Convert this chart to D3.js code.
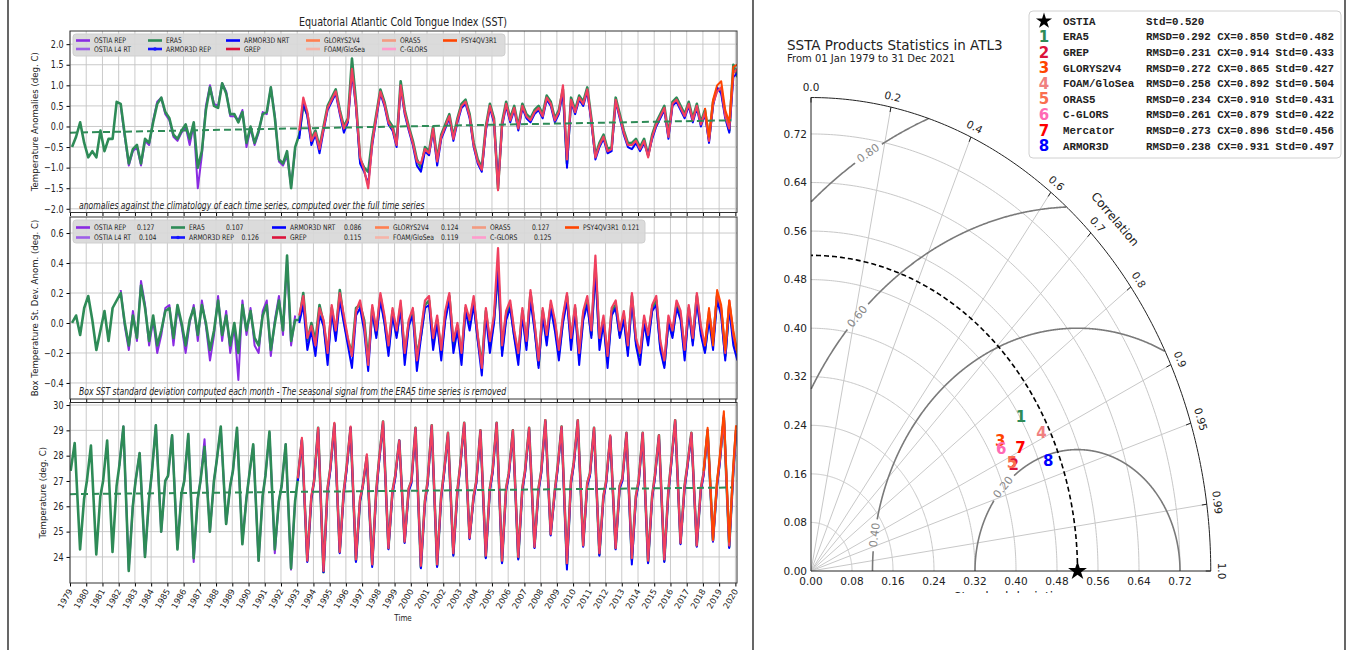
<!DOCTYPE html>
<html>
<head>
<meta charset="utf-8">
<script src="https://cdn.jsdelivr.net/npm/d3@7"></script>
<style>
  body { margin: 0; background: #fff; }
  svg { display: block; font-family: "DejaVu Sans", sans-serif; }
</style>
</head>
<body>
<svg id="chart" width="1347" height="650"></svg>
<script>
// ---------- time series data ----------
const yearTicks = d3.range(1979, 2021);
const quarterOffsets = [0.125, 0.375, 0.625, 0.875];
const seasonOffsets = [0.04, 0.29, 0.62, 0.87]; // Jan, Apr (peak), Aug (trough), Nov

// panel 1: SST anomalies, quarterly
const anomEra5 = [
  -0.5,-0.25,0.1,-0.4, -0.75,-0.6,-0.75,-0.1, -0.6,-0.3,-0.3,0.6, 0.55,-0.2,-0.9,-0.55,
  -0.45,-0.9,-0.3,-0.4, 0.1,0.55,0.7,0.35, 0.2,-0.2,-0.3,-0.1, 0.05,-0.3,0.1,-1.0,
  -0.6,0.4,0.95,0.5, 0.45,1.05,0.8,0.3, 0.3,0.1,0.35,-0.4, 0.0,-0.4,-0.1,0.3,
  0.35,0.95,0.2,-0.8, -0.9,-0.6,-1.5,-0.5, -0.2,0.5,0.3,-0.3, -0.1,-0.5,0.0,0.5,
  0.7,0.9,0.4,0.0, 0.2,1.65,0.6,-0.8, -1.0,-1.1,-0.3,0.3, 0.9,0.6,0.15,0.0,
  -0.4,1.1,0.4,0.0, -0.35,-0.8,-1.0,-0.5, -0.6,0.0,-0.8,-0.2, 0.05,0.3,-0.25,0.2,
  0.55,0.65,0.3,-0.4, -0.8,-1.0,0.0,0.55, 0.2,-1.5,0.1,0.6, 0.2,0.5,0.0,0.55,
  0.3,0.2,0.4,0.5, 0.3,0.75,0.6,0.2, 0.4,0.9,-0.9,0.7, 0.4,0.75,0.6,0.95,
  0.2,-0.7,-0.4,-0.2, -0.55,-0.5,0.7,0.3, -0.1,-0.4,-0.4,-0.3, -0.5,-0.3,-0.7,-0.2,
  0.1,0.3,0.5,-0.2, 0.6,0.7,0.5,0.3, 0.6,0.2,0.55,0.1, 0.4,-0.3,0.6,0.9,
  0.9,0.3,-0.1,1.5, 1.2
];
const anomOstia = [
  0.5,-0.25,-0.95,-0.6, -0.5,-0.95,-0.35,-0.45, 0.15,0.6,0.7,0.3, 0.15,-0.25,-0.35,-0.15,
  0.0,-0.45,0.05,-1.5, -0.7,0.5,1.0,0.55, 0.5,1.05,0.85,0.25, 0.25,0.15,0.4,-0.5,
  -0.05,-0.45,-0.15,0.35, 0.3,0.95,0.25,-0.85, -0.95,-0.7,-1.45,-0.55
];
const anomArmor = [
  -0.3,0.6,0.25,-0.45, -0.2,-0.65,-0.1,0.4, 0.6,0.8,0.3,-0.15, 0.1,1.3,0.45,-0.9,
  -1.1,-1.4,-0.45,0.2, 0.8,0.5,0.05,-0.1, -0.5,0.95,0.3,-0.1, -0.45,-0.95,-1.1,-0.6,
  -0.7,-0.1,-0.95,-0.3, -0.05,0.2,-0.35,0.1, 0.45,0.55,0.2,-0.5, -0.9,-1.1,-0.1,0.45,
  0.1,-1.45,0.0,0.5, 0.1,0.4,-0.1,0.45, 0.2,0.1,0.3,0.4, 0.2,0.65,0.5,0.1,
  0.3,0.85,-1.0,0.6, 0.3,0.65,0.5,0.85, 0.1,-0.8,-0.5,-0.3, -0.65,-0.6,0.6,0.2,
  -0.2,-0.5,-0.55,-0.4, -0.6,-0.4,-0.7,-0.3, 0.0,0.2,0.4,-0.3, 0.5,0.6,0.4,0.2,
  0.5,0.1,0.45,0.0, 0.3,-0.4,0.5,0.95, 0.8,0.2,-0.15,1.2, 1.3
];
const anomGrep = [
  -0.1,0.7,0.35,-0.35, -0.15,-0.55,-0.05,0.45, 0.65,0.85,0.35,-0.05, 0.15,1.4,0.5,-0.75,
  -1.05,-1.5,-0.4,0.25, 0.85,0.55,0.1,-0.05, -0.45,1.0,0.35,-0.05, -0.4,-0.85,-0.9,-0.55,
  -0.65,-0.05,-0.85,-0.25, 0.0,0.25,-0.3,0.15, 0.5,0.6,0.25,-0.45, -0.85,-1.05,-0.05,0.5,
  0.15,-1.55,0.05,0.55, 0.15,0.45,-0.05,0.5, 0.25,0.15,0.35,0.45, 0.25,0.7,0.55,0.15,
  0.35,1.0,-0.8,0.65, 0.35,0.7,0.55,0.9, 0.15,-0.75,-0.45,-0.25, -0.6,-0.55,0.65,0.25,
  -0.15,-0.45,-0.45,-0.35, -0.55,-0.35,-0.75,-0.25, 0.05,0.25,0.45,-0.25, 0.55,0.65,0.45,0.25,
  0.55,0.15,0.5,0.05, 0.35,-0.35,0.55,0.85, 0.95,0.25,-0.05,1.3, 1.4
];
const anomPsy4 = [0.45,-0.25,0.65,1.0, 1.1,0.4,0.1,1.45, 1.5];

// panel 2: box SST standard deviation anomalies, quarterly
const sdEra5 = [
  0.0,0.05,-0.08,0.1, 0.18,0.02,-0.18,-0.05, 0.08,-0.12,0.1,0.15, 0.2,0.0,-0.15,0.05,
  -0.1,0.25,0.1,-0.12, 0.05,-0.15,-0.05,0.08, 0.1,-0.1,0.12,0.0, -0.15,0.02,0.1,-0.08,
  0.12,0.0,-0.18,-0.05, 0.15,-0.08,0.05,-0.15, 0.0,-0.2,0.12,-0.05, 0.08,-0.1,-0.15,0.05,
  0.12,-0.18,0.0,0.15, -0.05,0.45,-0.12,0.02, 0.02,0.2,-0.12,0.0, -0.12,0.12,0.0,-0.22,
  0.1,-0.08,0.22,0.02, -0.12,-0.2,0.1,0.12, 0.02,-0.25,0.1,-0.08, 0.18,0.02,-0.18,0.08,
  -0.08,0.12,-0.22,0.0, 0.08,-0.22,-0.08,0.12, 0.15,-0.12,0.02,-0.2, 0.05,0.18,-0.15,-0.02,
  -0.22,0.1,0.0,0.15, -0.1,-0.28,0.08,-0.15, 0.02,0.35,-0.18,0.05, 0.12,-0.08,-0.22,0.08,
  -0.15,0.2,-0.02,-0.28, 0.08,-0.1,0.12,0.0, -0.2,0.02,0.18,-0.12, 0.1,-0.22,0.05,0.15,
  -0.08,0.38,-0.12,0.02, -0.25,0.08,0.12,-0.08, 0.05,-0.18,0.18,-0.12, -0.22,0.02,-0.1,0.1,
  0.15,-0.15,-0.28,0.02, -0.08,0.12,0.05,-0.2, 0.1,-0.12,0.18,-0.05, -0.18,0.05,-0.12,0.18,
  0.08,-0.22,0.12,-0.1, -0.22
];
const sdOstia = [
  0.22,-0.02,-0.18,0.08, -0.12,0.28,0.12,-0.15, 0.02,-0.2,-0.08,0.1, 0.12,-0.15,0.1,-0.02,
  -0.2,0.0,0.12,-0.12, 0.15,-0.02,-0.25,-0.08, 0.18,-0.12,0.08,-0.2, -0.02,-0.38,0.15,-0.08,
  0.1,-0.15,-0.2,0.08, 0.15,-0.22,0.02,0.18, -0.08,0.42,-0.15,0.05
];
const sdArmor = [
  0.0,0.12,-0.18,-0.05, -0.22,0.05,-0.02,-0.28, 0.08,-0.12,0.15,0.0, -0.15,-0.3,0.05,0.1,
  -0.05,-0.32,0.08,-0.1, 0.15,0.0,-0.22,0.05, -0.1,0.1,-0.28,-0.02, 0.05,-0.32,-0.1,0.1,
  0.12,-0.18,0.0,-0.25, 0.02,0.15,-0.2,-0.05, -0.28,0.08,-0.05,0.12, -0.12,-0.35,0.05,-0.2,
  0.0,0.35,-0.22,0.02, 0.1,-0.1,-0.28,0.05, -0.18,0.15,-0.05,-0.3, 0.05,-0.15,0.1,-0.05,
  -0.25,0.0,0.15,-0.18, 0.08,-0.28,0.02,0.12, -0.1,0.35,-0.18,0.0, -0.3,0.05,0.1,-0.1,
  0.02,-0.22,0.15,-0.15, -0.28,0.0,-0.15,0.08, 0.12,-0.18,-0.3,0.0, -0.1,0.1,0.02,-0.25,
  0.08,-0.15,0.15,-0.08, -0.2,0.02,-0.18,0.15, 0.05,-0.25,0.1,-0.15, -0.25
];
const sdGrep = [
  0.05,0.18,-0.1,-0.02, -0.15,0.1,0.02,-0.2, 0.12,-0.05,0.2,0.05, -0.1,-0.22,0.08,0.15,
  0.0,-0.28,0.12,-0.05, 0.2,0.05,-0.15,0.1, -0.05,0.15,-0.2,0.02, 0.1,-0.25,-0.05,0.15,
  0.18,-0.1,0.05,-0.18, 0.08,0.2,-0.12,0.0, -0.2,0.12,0.02,0.18, -0.08,-0.3,0.1,-0.12,
  0.05,0.5,-0.15,0.08, 0.15,-0.05,-0.2,0.1, -0.12,0.22,0.0,-0.25, 0.1,-0.08,0.15,0.02,
  -0.18,0.05,0.2,-0.1, 0.12,-0.2,0.08,0.18, -0.05,0.45,-0.1,0.05, -0.22,0.1,0.15,-0.05,
  0.08,-0.15,0.2,-0.1, -0.2,0.05,-0.08,0.12, 0.18,-0.12,-0.25,0.05, -0.05,0.15,0.08,-0.18,
  0.12,-0.1,0.2,-0.02, -0.15,0.08,-0.1,0.2, 0.1,-0.2,0.15,-0.08, -0.2
];
const sdPsy4 = [-0.15,0.1,-0.15,0.22, 0.12,-0.18,0.15,-0.05, -0.2];

// panel 3: box SST, per year [Jan, Apr, Aug, Nov]
const tempEra5 = [
  [27.4,28.5,24.3,26.3],[27.0,28.4,24.1,26.4],[27.0,28.6,24.2,26.8],[27.6,29.15,23.45,26.0],
  [27.0,28.1,24.0,26.3],[27.3,29.2,25.0,27.0],[27.2,28.8,24.3,26.5],[27.0,28.85,23.95,26.3],
  [27.0,28.35,25.0,27.0],[27.8,29.15,25.3,26.8],[27.4,29.1,24.5,26.3],[27.2,28.45,23.85,26.4],
  [27.2,28.95,24.3,26.2],[26.8,28.45,23.55,26.2],[27.1,28.6,23.85,26.3],[27.0,29.1,23.4,26.7],
  [27.5,29.25,24.2,26.6],[27.5,29.1,23.85,26.2],[26.8,27.95,23.7,26.6],[27.8,29.35,24.35,26.6],
  [27.2,28.6,24.6,26.7],[27.0,29.1,23.6,26.2],[27.0,29.2,23.65,26.4],[27.3,28.9,24.1,26.6],
  [27.6,29.3,24.75,26.4],[27.0,29.0,24.0,26.7],[27.4,29.3,23.8,26.7],[27.3,29.0,23.95,26.7],
  [27.4,29.1,24.4,26.7],[27.4,29.4,24.9,26.6],[27.5,29.15,23.7,27.0],[27.7,29.4,24.45,26.9],
  [27.3,29.1,24.1,26.4],[27.0,28.75,24.35,26.8],[27.1,28.9,23.9,26.4],[27.0,28.9,23.8,26.4],
  [27.2,28.8,23.85,26.6],[27.7,29.4,24.55,26.8],[27.6,28.9,24.45,26.7],[27.3,29.0,24.65,26.9],
  [27.8,29.5,24.4,27.4],[29.0]
];
const tempOstia = [
  [27.6,29.15,23.5,26.0],[27.0,28.1,24.0,26.3],[27.3,29.2,25.0,27.0],[27.2,28.8,24.35,26.5],
  [27.0,28.8,23.8,26.3],[27.0,28.65,25.0,27.0],[27.8,29.1,25.3,26.8],[27.4,29.05,24.55,26.3],
  [27.2,28.4,23.85,26.4],[27.2,28.9,24.15,26.2],[26.8,28.45,23.5,26.2]
];
const tempArmor = [
  [27.0,28.65,23.8,26.3],[27.0,29.05,23.4,26.6],[27.4,29.2,24.15,26.5],[27.4,29.1,23.8,26.2],
  [26.8,27.95,23.6,26.5],[27.7,29.3,24.3,26.5],[27.1,28.6,24.55,26.6],[26.9,29.05,23.55,26.1],
  [26.9,29.15,23.6,26.3],[27.2,28.85,24.05,26.5],[27.5,29.25,24.7,26.3],[26.9,28.95,23.95,26.6],
  [27.3,29.25,23.75,26.6],[27.2,28.95,23.9,26.6],[27.3,29.05,24.35,26.6],[27.3,29.35,24.85,26.5],
  [27.4,29.1,23.5,26.9],[27.6,29.35,24.4,26.8],[27.2,29.05,24.05,26.3],[26.9,28.75,24.3,26.7],
  [27.0,28.85,23.7,26.3],[26.9,28.85,23.75,26.3],[27.1,28.75,23.8,26.5],[27.6,29.35,24.5,26.7],
  [27.5,28.85,24.4,26.6],[27.2,28.95,24.6,26.8],[27.7,29.6,24.35,27.3],[28.9]
];
const tempGrep = [
  [27.1,28.7,23.85,26.4],[27.0,29.1,23.45,26.7],[27.5,29.3,24.2,26.6],[27.5,29.15,23.9,26.3],
  [26.8,28.05,23.7,26.6],[27.8,29.35,24.35,26.6],[27.2,28.6,24.6,26.7],[27.0,29.1,23.65,26.2],
  [27.0,29.2,23.7,26.4],[27.3,28.9,24.15,26.6],[27.6,29.3,24.75,26.4],[27.0,29.0,24.05,26.7],
  [27.4,29.3,23.85,26.7],[27.3,29.0,24.0,26.7],[27.4,29.1,24.4,26.7],[27.4,29.4,24.9,26.6],
  [27.5,29.15,23.75,27.0],[27.7,29.4,24.45,26.9],[27.3,29.1,24.15,26.4],[27.0,28.8,24.35,26.8],
  [27.1,28.9,23.95,26.4],[27.0,28.9,23.85,26.4],[27.2,28.8,23.9,26.6],[27.7,29.4,24.55,26.8],
  [27.6,28.9,24.45,26.7],[27.3,29.0,24.65,26.9],[27.8,29.5,24.45,27.4],[29.0]
];
const tempPsy4 = [[27.4,29.1,24.7,27.0],[28.0,29.75,24.6,27.6],[29.2]];

// dashed linear trends [start value, end value] over 1979 .. 2019.75
const trendAnom = [-0.15, 0.15];
const trendTemp = [26.48, 26.74];

// legend of the time-series panels
const legendNames = ['OSTIA REP','OSTIA L4 RT','ERA5','ARMOR3D REP','ARMOR3D NRT','GREP',
                     'GLORYS2V4','FOAM/GloSea','ORAS5','C-GLORS','PSY4QV3R1'];
const legendStd = ['0.127','0.104','0.107','0.126','0.086','0.115','0.124','0.119','0.127','0.125','0.121'];
const legendColors = ['#8a2be2','#9e5fe8','#2e8b57','#1515ff','#0000ff','#dc143c',
                      '#ff7f50','#f6b4a8','#f39a80','#ff9ccc','#ff4500'];

// ---------- Taylor diagram data ----------
const refStd = 0.520;
const taylorNames = ['ERA5','GREP','GLORYS2V4','FOAM/GloSea','ORAS5','C-GLORS','Mercator','ARMOR3D'];
const taylorRmsd = [0.292,0.231,0.272,0.258,0.234,0.261,0.273,0.238];
const taylorCorr = [0.850,0.914,0.865,0.892,0.910,0.879,0.896,0.931];
const taylorStd  = [0.482,0.433,0.427,0.504,0.431,0.422,0.456,0.497];
const taylorColors = ['#2e8b57','#dc143c','#ff4500','#f08080','#fa6e50','#ff69b4','#ff0000','#0000ff'];
const corrTicks = [0, 0.2, 0.4, 0.6, 0.7, 0.8, 0.9, 0.95, 0.99, 1.0];
const stdTicks = [0, 0.08, 0.16, 0.24, 0.32, 0.40, 0.48, 0.56, 0.64, 0.72];
const rmsLevels = [0.2, 0.4, 0.6, 0.8];

// ---------- drawing ----------
const svg = d3.select('#chart');
const x = d3.scaleLinear().domain([1979, 2020.1]).range([70, 737]);
const SQ = 0.8; // the left figure is horizontally squeezed

function stext(g, px, py, str, size) {
  return g.append('text').attr('transform', `translate(${px},${py}) scale(${SQ},1)`)
    .attr('font-size', size).attr('fill', '#222').text(str);
}

function quarterPts(start, vals) {
  return vals.map((v, i) => ({ t: start + Math.floor(i / 4) + quarterOffsets[i % 4], v }));
}
function seasonPts(start, rows) {
  const out = [];
  rows.forEach((r, yi) => r.forEach((v, k) => out.push({ t: start + yi + seasonOffsets[k], v })));
  return out;
}

function drawPanel(p, idx) {
  const g = svg.append('g');
  const y = d3.scaleLinear().domain(p.domain).range([p.bottom, p.top]);
  const [x0, x1] = x.range();

  // grid
  g.append('g').selectAll('line').data(yearTicks).join('line')
    .attr('x1', d => x(d)).attr('x2', d => x(d)).attr('y1', p.top).attr('y2', p.bottom)
    .attr('stroke', '#c4c4c4').attr('stroke-width', 0.9);
  g.append('g').selectAll('line').data(p.ticks).join('line')
    .attr('x1', x0).attr('x2', x1).attr('y1', d => y(d)).attr('y2', d => y(d))
    .attr('stroke', '#c4c4c4').attr('stroke-width', 0.9);

  // axes
  const ya = g.append('g').attr('transform', `translate(${x0},0)`)
    .call(d3.axisLeft(y).tickValues(p.ticks).tickFormat(p.fmt).tickSize(3.5).tickPadding(3));
  ya.select('.domain').remove();
  ya.selectAll('text').attr('font-size', 10).attr('fill', '#222')
    .attr('font-family', '"DejaVu Sans", sans-serif')
    .attr('x', -6.5 / SQ).attr('transform', `scale(${SQ},1)`);
  const xa = g.append('g').attr('transform', `translate(0,${p.bottom})`)
    .call(d3.axisBottom(x).tickValues(yearTicks).tickSize(3.5).tickFormat(''));
  xa.select('.domain').remove();

  // series
  const clipId = 'clip' + idx;
  g.append('clipPath').attr('id', clipId).append('rect')
    .attr('x', x0).attr('y', p.top).attr('width', x1 - x0).attr('height', p.bottom - p.top);
  const line = d3.line().x(d => x(d.t)).y(d => y(d.v));
  const lines = g.append('g').attr('clip-path', `url(#${clipId})`);
  p.series.forEach(s => {
    lines.append('path').datum(s.pts).attr('d', line).attr('fill', 'none')
      .attr('stroke', s.color).attr('stroke-width', s.width).attr('stroke-opacity', s.opacity || 1)
      .attr('stroke-linejoin', 'round');
  });
  if (p.trend) {
    lines.append('path').datum([{ t: 1979, v: p.trend[0] }, { t: 2019.75, v: p.trend[1] }])
      .attr('d', line).attr('fill', 'none').attr('stroke', '#2e8b57')
      .attr('stroke-width', 2).attr('stroke-dasharray', '7,4');
  }

  // frame
  g.append('rect').attr('x', x0).attr('y', p.top).attr('width', x1 - x0).attr('height', p.bottom - p.top)
    .attr('fill', 'none').attr('stroke', '#333').attr('stroke-width', 1);

  // y label
  g.append('text').attr('transform', `translate(${p.labelX},${(p.top + p.bottom) / 2}) rotate(-90)`)
    .attr('text-anchor', 'middle').attr('font-size', 8.6).attr('fill', '#222').text(p.ylabel);

  // caption
  if (p.caption) {
    stext(g, 79, p.bottom - 4, p.caption, 9.6).attr('font-style', 'italic');
  }

  // legend
  if (p.legend) {
    const L = p.legend;
    g.append('rect').attr('x', L.x).attr('y', L.y).attr('width', L.w).attr('height', L.h)
      .attr('rx', 3).attr('fill', '#d8d8d8').attr('fill-opacity', 0.92).attr('stroke', '#cfcfcf');
    legendNames.forEach((name, i) => {
      const col = Math.floor(i / 2), row = i % 2;
      const lx = L.cols[col], ly = L.rows[row];
      g.append('line').attr('x1', lx).attr('x2', lx + 14).attr('y1', ly).attr('y2', ly)
        .attr('stroke', legendColors[i]).attr('stroke-width', 2.6);
      if (name === 'ARMOR3D REP') {
        g.append('circle').attr('cx', lx + 7).attr('cy', ly).attr('r', 1.8).attr('fill', legendColors[i]);
      }
      stext(g, lx + 18, ly + 2.7, name, 7.6);
      if (L.vals) stext(g, L.vals[i], ly + 2.7, legendStd[i], 7.6);
    });
  }
}

const panels = [
  {
    top: 31, bottom: 212.5, domain: [-2.09, 2.32], ticks: d3.range(-2, 2.01, 0.5),
    fmt: d3.format('.1f'), ylabel: 'Temperature Anomalies (deg. C)', labelX: 38,
    caption: 'anomalies against the climatology of each time series, computed over the full time series',
    trend: trendAnom,
    series: [
      { pts: quarterPts(1982, anomOstia), color: '#8a2be2', width: 2 },
      { pts: quarterPts(1979, anomEra5), color: '#2e8b57', width: 2.6 },
      { pts: quarterPts(1993, anomArmor), color: '#0000ff', width: 2 },
      { pts: quarterPts(1993, anomGrep), color: '#f0405f', width: 2.2 },
      { pts: quarterPts(2018, anomPsy4), color: '#ff4500', width: 2 }
    ],
    legend: { x: 73, y: 34, w: 432, h: 22, rows: [40.5, 49], cols: [76, 148, 226, 306, 382, 443] }
  },
  {
    top: 217, bottom: 399, domain: [-0.507, 0.707], ticks: [-0.4, -0.2, 0, 0.2, 0.4, 0.6],
    fmt: d3.format('.1f'), ylabel: 'Box Temperature St. Dev. Anom. (deg. C)', labelX: 38,
    caption: 'Box SST standard deviation computed each month - The seasonal signal from the ERA5 time series is removed',
    series: [
      { pts: quarterPts(1982, sdOstia), color: '#8a2be2', width: 2 },
      { pts: quarterPts(1979, sdEra5), color: '#2e8b57', width: 2.6 },
      { pts: quarterPts(1993, sdArmor), color: '#0000ff', width: 2 },
      { pts: quarterPts(1993, sdGrep), color: '#f0405f', width: 2.2 },
      { pts: quarterPts(2018, sdPsy4), color: '#ff4500', width: 2 }
    ],
    legend: { x: 73, y: 220, w: 572, h: 23, rows: [227.5, 237.5], cols: [76, 171, 272, 375, 472, 565],
              vals: [137, 139, 226, 241.5, 344, 344, 441, 441, 532, 534, 622] }
  },
  {
    top: 402.5, bottom: 583, domain: [22.97, 30.1], ticks: d3.range(24, 31),
    fmt: d3.format('d'), ylabel: 'Temperature (deg. C)', labelX: 46,
    trend: trendTemp,
    series: [
      { pts: seasonPts(1982, tempOstia), color: '#8a2be2', width: 2 },
      { pts: seasonPts(1979, tempEra5), color: '#2e8b57', width: 2.6 },
      { pts: seasonPts(1993, tempArmor), color: '#0000ff', width: 2 },
      { pts: seasonPts(1993, tempGrep), color: '#f0405f', width: 2.2 },
      { pts: seasonPts(2018, tempPsy4), color: '#ff4500', width: 2 }
    ]
  }
];
panels.forEach(drawPanel);

// title, year labels, x label
stext(svg, 403, 26, 'Equatorial Atlantic Cold Tongue Index (SST)', 12).attr('text-anchor', 'middle');
svg.append('g').selectAll('text').data(yearTicks).join('text')
  .attr('transform', d => `translate(${x(d) + 3},${591}) rotate(-60)`)
  .attr('text-anchor', 'end').attr('font-size', 8.4).attr('fill', '#222').text(d => d);
stext(svg, 403, 621, 'Time', 9).attr('text-anchor', 'middle');

// ---------- Taylor diagram ----------
const RMAX = 0.78;
const tx = d3.scaleLinear().domain([0, RMAX]).range([811, 811 + RMAX * 512.5]);
const ty = d3.scaleLinear().domain([0, RMAX]).range([571, 571 - RMAX * 607]);
const SX = 512.5, SY = 607;
const T = svg.append('g');
const arcPts = r => d3.range(0, 181).map(i => { const th = Math.PI / 2 * i / 180; return [r * Math.cos(th), r * Math.sin(th)]; });
const pline = d3.line().x(d => tx(d[0])).y(d => ty(d[1]));

// std grid arcs and correlation rays
T.append('g').selectAll('path').data(stdTicks.filter(d => d > 0)).join('path')
  .attr('d', r => pline(arcPts(r))).attr('fill', 'none').attr('stroke', '#c8c8c8').attr('stroke-width', 1);
T.append('g').selectAll('line').data(corrTicks.filter(c => c > 0 && c < 1)).join('line')
  .attr('x1', tx(0)).attr('y1', ty(0))
  .attr('x2', c => tx(RMAX * c)).attr('y2', c => ty(RMAX * Math.sqrt(1 - c * c)))
  .attr('stroke', '#c8c8c8').attr('stroke-width', 1);

// RMSD contours around the reference point, with inline labels
const rmsLabelPhi = [136.4, 171.5, 135.7, 120.7];
rmsLevels.forEach((L, k) => {
  const phiLab = rmsLabelPhi[k] * Math.PI / 180;
  const gap = 16 / (L * Math.hypot(SX * Math.sin(phiLab), SY * Math.cos(phiLab)));
  const pts = d3.range(0, 1201).map(i => {
    const phi = Math.PI * i / 1200;
    const px = refStd + L * Math.cos(phi), py = L * Math.sin(phi);
    return { px, py, ok: px >= 0 && Math.hypot(px, py) <= RMAX && Math.abs(phi - phiLab) > gap };
  });
  T.append('path').datum(pts)
    .attr('d', d3.line().defined(d => d.ok).x(d => tx(d.px)).y(d => ty(d.py)))
    .attr('fill', 'none').attr('stroke', '#7a7a7a').attr('stroke-width', 1.6);
  let ang = Math.atan2(-SY * Math.cos(phiLab), -SX * Math.sin(phiLab)) * 180 / Math.PI;
  if (ang > 90) ang -= 180;
  if (ang < -90) ang += 180;
  T.append('text')
    .attr('transform', `translate(${tx(refStd + L * Math.cos(phiLab))},${ty(L * Math.sin(phiLab))}) rotate(${ang})`)
    .attr('text-anchor', 'middle').attr('dominant-baseline', 'central')
    .attr('font-size', 11).attr('fill', '#8a8a8a').text(L.toFixed(2));
});

// reference std arc
T.append('path').attr('d', pline(arcPts(refStd))).attr('fill', 'none')
  .attr('stroke', '#000').attr('stroke-width', 1.6).attr('stroke-dasharray', '5,3');

// axes
T.append('path').attr('d', pline(arcPts(RMAX))).attr('fill', 'none').attr('stroke', '#222').attr('stroke-width', 1);
T.append('line').attr('x1', tx(0)).attr('x2', tx(0)).attr('y1', ty(0)).attr('y2', ty(RMAX)).attr('stroke', '#222');
T.append('line').attr('x1', tx(0)).attr('x2', tx(RMAX)).attr('y1', ty(0)).attr('y2', ty(0)).attr('stroke', '#222');
T.append('g').selectAll('text').data(stdTicks).join('text')
  .attr('x', tx(0) - 4).attr('y', d => ty(d)).attr('dy', '0.35em').attr('text-anchor', 'end')
  .attr('font-size', 10.5).attr('fill', '#222').text(d => d.toFixed(2));
T.append('g').selectAll('text').data(stdTicks).join('text')
  .attr('x', d => tx(d)).attr('y', ty(0) + 14).attr('text-anchor', 'middle')
  .attr('font-size', 10.5).attr('fill', '#222').text(d => d.toFixed(2));

// correlation ticks and labels on the outer arc
corrTicks.forEach(c => {
  const th = Math.acos(c);
  const pr = Math.hypot(SX * Math.cos(th), SY * Math.sin(th));
  const rIn = RMAX - 5 / pr, rOut = RMAX + 11 / pr;
  T.append('line').attr('x1', tx(rIn * Math.cos(th))).attr('y1', ty(rIn * Math.sin(th)))
    .attr('x2', tx(RMAX * Math.cos(th))).attr('y2', ty(RMAX * Math.sin(th))).attr('stroke', '#222');
  const ang = Math.atan2(SY * Math.cos(th), SX * Math.sin(th)) * 180 / Math.PI;
  T.append('text')
    .attr('transform', `translate(${tx(rOut * Math.cos(th))},${ty(rOut * Math.sin(th))}) rotate(${ang})`)
    .attr('text-anchor', 'middle').attr('dominant-baseline', 'central')
    .attr('font-size', 10.5).attr('fill', '#222').text(c === 0 || c === 1 ? c.toFixed(1) : String(c));
});
{
  const th = Math.PI / 4, pr = Math.hypot(SX * Math.cos(th), SY * Math.sin(th));
  const r = RMAX + 30 / pr;
  const ang = Math.atan2(SY * Math.cos(th), SX * Math.sin(th)) * 180 / Math.PI;
  T.append('text').attr('transform', `translate(${tx(r * Math.cos(th)) + 2},${ty(r * Math.sin(th)) + 6}) rotate(${ang})`)
    .attr('text-anchor', 'middle').attr('dominant-baseline', 'central')
    .attr('font-size', 12).attr('fill', '#222').text('Correlation');
}

// x label, cut off like the reference
T.append('clipPath').attr('id', 'tclip').append('rect').attr('x', 755).attr('y', 0).attr('width', 590).attr('height', 593);
T.append('text').attr('clip-path', 'url(#tclip)').attr('x', tx(0.39)).attr('y', 601)
  .attr('text-anchor', 'middle').attr('font-size', 12).attr('fill', '#222').text('Standard deviation');

// reference star and model points
T.append('path').attr('d', d3.symbol(d3.symbolStar, 110)())
  .attr('transform', `translate(${tx(refStd)},${ty(0)})`).attr('fill', '#000');
T.append('g').selectAll('text').data(taylorNames).join('text')
  .attr('x', (d, i) => tx(taylorStd[i] * taylorCorr[i]))
  .attr('y', (d, i) => ty(taylorStd[i] * Math.sqrt(1 - taylorCorr[i] ** 2)))
  .attr('dy', '0.36em').attr('text-anchor', 'middle').attr('font-weight', 'bold')
  .attr('font-size', 15).attr('fill', (d, i) => taylorColors[i]).text((d, i) => i + 1);

// titles
T.append('text').attr('x', 787).attr('y', 50).attr('font-size', 13.5).attr('fill', '#222')
  .text('SSTA Products Statistics in ATL3');
T.append('text').attr('x', 787).attr('y', 62).attr('font-size', 10).attr('fill', '#222')
  .text('From 01 Jan 1979 to 31 Dec 2021');

// legend
const LG = T.append('g');
LG.append('rect').attr('x', 1029).attr('y', 11).attr('width', 312).attr('height', 147).attr('rx', 4)
  .attr('fill', '#fff').attr('stroke', '#d0d0d0');
const rowY = i => 21 + i * 15.6;
const mono = '"Liberation Mono", "DejaVu Sans Mono", monospace';
LG.append('path').attr('d', d3.symbol(d3.symbolStar, 80)())
  .attr('transform', `translate(1044,${rowY(0)})`).attr('fill', '#000');
LG.append('text').attr('x', 1063).attr('y', rowY(0)).attr('dy', '0.35em').attr('font-family', mono)
  .attr('font-weight', 'bold').attr('font-size', 10.8).attr('fill', '#222').text('OSTIA');
LG.append('text').attr('x', 1146).attr('y', rowY(0)).attr('dy', '0.35em').attr('font-family', mono)
  .attr('font-weight', 'bold').attr('font-size', 10.8).attr('fill', '#222').text('Std=' + refStd.toFixed(3));
taylorNames.forEach((name, i) => {
  const yy = rowY(i + 1);
  LG.append('text').attr('x', 1044).attr('y', yy).attr('dy', '0.36em').attr('text-anchor', 'middle')
    .attr('font-weight', 'bold').attr('font-size', 15).attr('fill', taylorColors[i]).text(i + 1);
  LG.append('text').attr('x', 1063).attr('y', yy).attr('dy', '0.35em').attr('font-family', mono)
    .attr('font-weight', 'bold').attr('font-size', 10.8).attr('fill', '#222').text(name);
  LG.append('text').attr('x', 1146).attr('y', yy).attr('dy', '0.35em').attr('font-family', mono)
    .attr('font-weight', 'bold').attr('font-size', 10.8).attr('fill', '#222')
    .text(`RMSD=${taylorRmsd[i].toFixed(3)} CX=${taylorCorr[i].toFixed(3)} Std=${taylorStd[i].toFixed(3)}`);
});

// page frame lines
[8, 753, 1345].forEach(px => {
  svg.append('line').attr('x1', px).attr('x2', px).attr('y1', 0).attr('y2', 650)
    .attr('stroke', '#000').attr('stroke-width', 1.2);
});
</script>
</body>
</html>
